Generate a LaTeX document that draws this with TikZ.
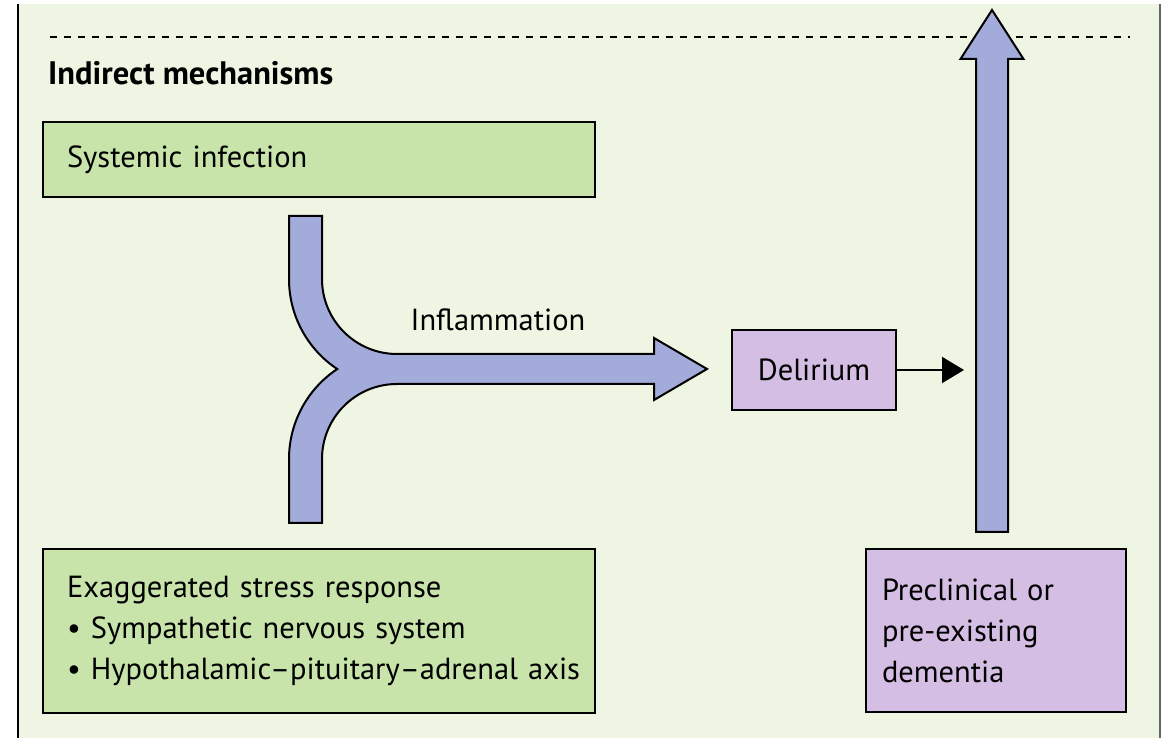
\documentclass[tikz,border=0pt]{standalone}
\usepackage{fontspec}
\setmainfont{PT Sans}
\usetikzlibrary{positioning, arrows.meta}

\definecolor{panelbg}{HTML}{EEF5E3}
\definecolor{greenbox}{HTML}{C8E4AA}
\definecolor{purplebox}{HTML}{D5BEE3}
\definecolor{arrowblue}{HTML}{A2ABD9}

\begin{document}
\begin{tikzpicture}[x=1pt, y=1pt,
        box/.style={draw, rectangle, line width=2pt, align=left, anchor=north west, font=\fontsize{30.5}{41}\selectfont},
        greenbox/.style={box, fill=greenbox, minimum width=552pt, inner xsep=24pt, text width=504pt},
        purplebox/.style={box, fill=purplebox},
        blockarrow/.style={draw, line width=2pt, fill=arrowblue, line join=miter},
        arrow/.style={-{Triangle[length=22pt, width=26pt]}, line width=2pt}
    ]
    \useasboundingbox (0,0) rectangle (1169,738);
    % panel
    \fill[panelbg] (18,0) rectangle (1160,734);
    \draw[line width=1.5pt] (18,0) -- (18,734);
    \draw[line width=2pt, black!60] (1160,0) -- (1160,734);
    \draw[line width=1.5pt, dash pattern=on 7pt off 7pt] (50,701) -- (1130,701);

    \node[anchor=base west, font=\fontsize{32.5}{38}\selectfont\bfseries, inner sep=0pt] (title) at (48,653) {Indirect mechanisms};

    \node[greenbox, minimum height=75pt] (infect) at (42,617) {Systemic infection};
    \node[greenbox, minimum height=164pt] (stress) at (42,190) {Exaggerated stress response\\
        \textbullet\ Sympathetic nervous system\\
        \mbox{\textbullet\ Hypothalamic--pituitary--adrenal axis}};
    \node[purplebox, anchor=center, minimum width=164pt, minimum height=80pt] (delirium) at (814,368) {Delirium};
    \node[purplebox, minimum width=260pt, minimum height=163pt, inner xsep=16pt, text width=228pt] (dementia) at (865,190) {Preclinical or\\pre-existing\\dementia};

    % fork from both causes into delirium
    \coordinate (forktip) at (707,369);
    \draw[blockarrow] (289,522) -- (322,522) -- (322,459)
        arc[start angle=180, end angle=270, radius=75] -- (654,384) -- (654,400)
        -- (forktip) -- (654,338) -- (654,354) -- (397,354)
        arc[start angle=90, end angle=180, radius=75] -- (322,215) -- (289,215) -- (289,279)
        arc[start angle=180, end angle=123.6, radius=108]
        arc[start angle=236.4, end angle=180, radius=108] -- cycle;
    \node[font=\fontsize{30.5}{36}\selectfont] (inflam) at (498,418) {Inflammation};

    \draw[arrow] (delirium.east) -- ++(67,0) coordinate (deltip);

    % long arrow up from dementia
    \coordinate (upbase) at (992,206);
    \coordinate (uptip) at (992,728);
    \draw[blockarrow] (upbase) ++(-16,0) -- ++(0,473) -- ++(-15.5,0) -- (uptip)
        -- ++(31.5,-49) -- ++(-15.5,0) -- ++(0,-473) -- cycle;
\end{tikzpicture}
\end{document}
